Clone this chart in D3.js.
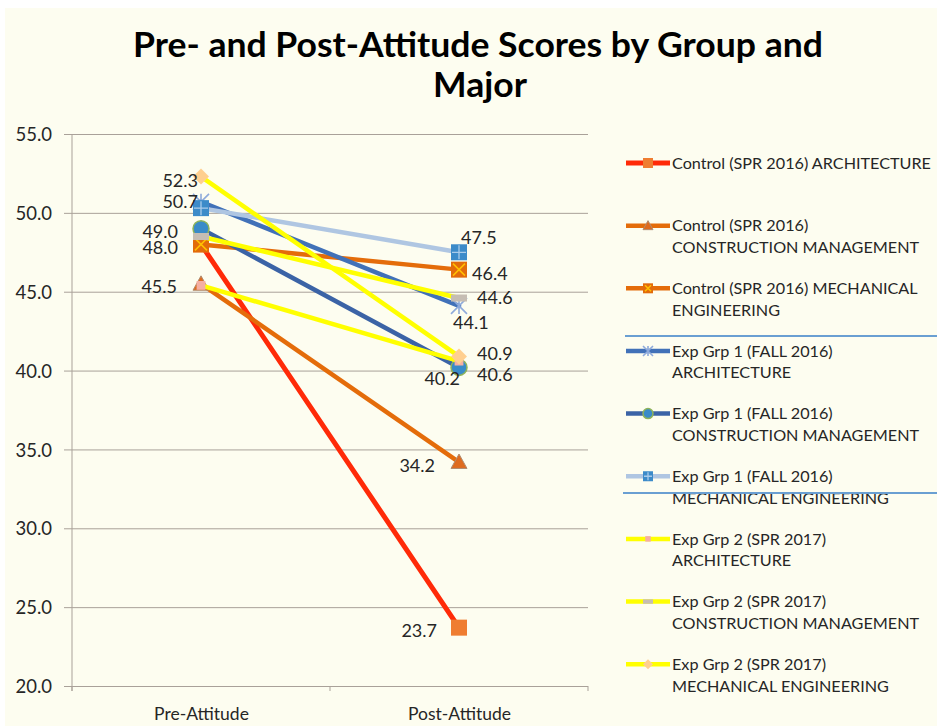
<!DOCTYPE html>
<html><head><meta charset="utf-8">
<script src="https://cdn.jsdelivr.net/npm/d3@7"></script>
<style>html,body{margin:0;padding:0;background:#fff}svg{display:block}</style>
</head><body>
<svg id="chart" width="937" height="726"></svg>
<script>
// ---------- DATA ----------
const categories = ["Pre-Attitude", "Post-Attitude"];
const seriesNames = [
  ["Control (SPR 2016) ARCHITECTURE"],
  ["Control (SPR 2016)", "CONSTRUCTION MANAGEMENT"],
  ["Control (SPR 2016) MECHANICAL", "ENGINEERING"],
  ["Exp Grp 1 (FALL 2016)", "ARCHITECTURE"],
  ["Exp Grp 1 (FALL 2016)", "CONSTRUCTION MANAGEMENT"],
  ["Exp Grp 1 (FALL 2016)", "MECHANICAL ENGINEERING"],
  ["Exp Grp 2 (SPR 2017)", "ARCHITECTURE"],
  ["Exp Grp 2 (SPR 2017)", "CONSTRUCTION MANAGEMENT"],
  ["Exp Grp 2 (SPR 2017)", "MECHANICAL ENGINEERING"]
];
const preValues  = [48.0, 45.5, 48.0, 50.7, 49.0, 50.3, 45.4, 48.5, 52.3];
const postValues = [23.7, 34.2, 46.4, 44.1, 40.2, 47.5, 40.6, 44.6, 40.9];
const preLabelShown  = [false, true, true, true, true, false, false, false, true];
const postLabelShown = [true, true, true, true, true, true, true, true, true];
const yTicks = [20, 25, 30, 35, 40, 45, 50, 55];
const titleLines = ["Pre- and Post-Attitude Scores by Group and", "Major"];

// ---------- STYLE ----------
const lineColors = ["#FF2A08", "#E46C0A", "#E46C0A", "#4171B8", "#3B63A6", "#AFC6E2", "#FFFF00", "#FFFF00", "#FFFF00"];
const lineWidths = [5, 4.5, 4.5, 4.5, 4.5, 4.5, 4.5, 4.5, 4.5];
const markerTypes = ["square", "triangle", "xsquare", "asterisk", "circle", "plussquare", "smallsquare", "dash", "diamond"];
// label placement per series: [dx, dy, anchor]
const preLabelPlace = [[-23, 3, "end"], [-24, 3, "end"], [-23, 3, "end"], [-3, 0, "end"], [-23, 3, "end"], [0,0,"end"], [0,0,"end"], [0,0,"end"], [-3, 4, "end"]];
const postLabelPlace = [[-22, 3, "end"], [-24, 3, "end"], [13, 4, "start"], [-6, 17, "start"], [1, 11, "end"], [2, -15, "start"], [18, 13, "start"], [18, -1, "start"], [18, -3, "start"]];

const svg = d3.select("#chart");
const W = 937, H = 726;
const bg = "#FDFDF0";
svg.append("rect").attr("x", 5).attr("y", 8).attr("width", W - 5).attr("height", H - 8).attr("fill", bg);

const plot = {left: 72, right: 588, top: 134, bottom: 686};
const x = d3.scalePoint().domain(categories).range([plot.left, plot.right]).padding(0.5);
const y = d3.scaleLinear().domain([20, 55]).range([plot.bottom, plot.top]);
const gridColor = "#A9A199";
const textColor = "#262626";
const font = "Lato, 'Open Sans', sans-serif";

// Title
const tg = svg.append("g").attr("font-family", font).attr("font-weight", "bold").attr("fill", "#000").attr("text-anchor", "middle");
const t1 = tg.append("text").attr("x", 478).attr("y", 57).attr("font-size", 34).text(titleLines[0]);
const natural = t1.node().getComputedTextLength();
const ratio = 690 / natural;
t1.attr("textLength", 690).attr("lengthAdjust", "spacingAndGlyphs");
const t2 = tg.append("text").attr("x", 480).attr("y", 97).attr("font-size", 34).text(titleLines[1]);
const n2 = t2.node().getComputedTextLength();
t2.attr("textLength", n2 * ratio).attr("lengthAdjust", "spacingAndGlyphs");

// Grid + y axis
const yAxis = d3.axisLeft(y).tickValues(yTicks).tickSize(-(plot.right - plot.left)).tickPadding(20).tickFormat(d3.format(".1f"));
const gy = svg.append("g").attr("transform", `translate(${plot.left},0)`).call(yAxis);
gy.select(".domain").remove();
gy.selectAll(".tick line").attr("stroke", gridColor).attr("stroke-width", 1).attr("x1", -8);
gy.selectAll(".tick text").attr("font-family", font).attr("font-size", 18.5).attr("fill", textColor).attr("dy", "0.36em");
svg.append("line").attr("x1", plot.left).attr("x2", plot.left).attr("y1", plot.top).attr("y2", plot.bottom + 5).attr("stroke", gridColor).attr("stroke-width", 1);

// x axis
const xAxis = d3.axisBottom(x).tickSize(0).tickPadding(22);
const gx = svg.append("g").attr("transform", `translate(0,${plot.bottom})`).call(xAxis);
gx.select(".domain").remove();
gx.selectAll(".tick text").attr("font-family", font).attr("font-size", 17.5).attr("fill", textColor);
const step = x.step();
[plot.left, plot.left + step, plot.right].forEach(px => {
  svg.append("line").attr("x1", px).attr("x2", px).attr("y1", plot.bottom).attr("y2", plot.bottom + 5).attr("stroke", gridColor);
});

// Marker drawer
function drawMarker(g, type, cx, cy, s) {
  const h = s / 2;
  switch (type) {
    case "square":
      g.append("rect").attr("x", cx - h).attr("y", cy - h).attr("width", s).attr("height", s).attr("fill", "#EF7D31");
      break;
    case "triangle":
      g.append("path").attr("d", `M${cx},${cy - h}L${cx + h},${cy + h * 0.8}L${cx - h},${cy + h * 0.8}Z`).attr("fill", "#DE6B1F").attr("stroke", "#B08C70").attr("stroke-width", 1);
      break;
    case "xsquare":
      g.append("rect").attr("x", cx - h).attr("y", cy - h).attr("width", s).attr("height", s).attr("fill", "#E26B0A");
      g.append("path").attr("d", `M${cx - h + 2},${cy - h + 2}L${cx + h - 2},${cy + h - 2}M${cx + h - 2},${cy - h + 2}L${cx - h + 2},${cy + h - 2}`).attr("stroke", "#FFC000").attr("stroke-width", 1.5);
      break;
    case "asterisk":
      g.append("path").attr("d", `M${cx - h},${cy - h}L${cx + h},${cy + h}M${cx + h},${cy - h}L${cx - h},${cy + h}M${cx},${cy - h}L${cx},${cy + h}`).attr("stroke", "#8EAADB").attr("stroke-width", 1.6).attr("fill", "none");
      break;
    case "circle":
      g.append("circle").attr("cx", cx).attr("cy", cy).attr("r", h).attr("fill", "#3A8BC8").attr("stroke", "#8FB35A").attr("stroke-width", 1.5);
      break;
    case "plussquare":
      g.append("rect").attr("x", cx - h).attr("y", cy - h).attr("width", s).attr("height", s).attr("fill", "#3C8BC9");
      g.append("path").attr("d", `M${cx},${cy - h + 1}L${cx},${cy + h - 1}M${cx - h + 1},${cy}L${cx + h - 1},${cy}`).attr("stroke", "#A9CBEA").attr("stroke-width", 1.3);
      break;
    case "smallsquare":
      g.append("rect").attr("x", cx - h * 0.55).attr("y", cy - h * 0.55).attr("width", s * 0.55).attr("height", s * 0.55).attr("fill", "#F5AFA2");
      break;
    case "dash":
      g.append("rect").attr("x", cx - h).attr("y", cy - s * 0.22).attr("width", s).attr("height", s * 0.44).attr("fill", "#C6BDB3");
      break;
    case "diamond":
      g.append("path").attr("d", `M${cx},${cy - h}L${cx + h},${cy}L${cx},${cy + h}L${cx - h},${cy}Z`).attr("fill", "#FFCF8F");
      break;
  }
}

// Series lines and markers
const lineGen = d3.line().x(d => x(d.c)).y(d => y(d.v));
seriesNames.forEach((name, i) => {
  const pts = [{c: categories[0], v: preValues[i]}, {c: categories[1], v: postValues[i]}];
  const g = svg.append("g");
  g.append("path").attr("d", lineGen(pts)).attr("fill", "none").attr("stroke", lineColors[i]).attr("stroke-width", lineWidths[i]).attr("stroke-linecap", "round");
  pts.forEach(p => drawMarker(g, markerTypes[i], x(p.c), y(p.v), 16));
});

// Data labels
const lg = svg.append("g").attr("font-family", font).attr("font-size", 18).attr("fill", textColor);
const fmt = d3.format(".1f");
seriesNames.forEach((name, i) => {
  if (preLabelShown[i]) {
    const [dx, dy, a] = preLabelPlace[i];
    lg.append("text").attr("x", x(categories[0]) + dx).attr("y", y(preValues[i]) + dy).attr("dy", "0.36em").attr("text-anchor", a).text(fmt(preValues[i]));
  }
  if (postLabelShown[i]) {
    const [dx, dy, a] = postLabelPlace[i];
    lg.append("text").attr("x", x(categories[1]) + dx).attr("y", y(postValues[i]) + dy).attr("dy", "0.36em").attr("text-anchor", a).text(fmt(postValues[i]));
  }
});

// Legend
const leg = svg.append("g").attr("font-family", font).attr("font-size", 16.2).attr("fill", textColor);
seriesNames.forEach((lines, i) => {
  const ly = 163 + i * 62.65;
  leg.append("line").attr("x1", 626).attr("x2", 670).attr("y1", ly).attr("y2", ly).attr("stroke", lineColors[i]).attr("stroke-width", lineWidths[i]);
  drawMarker(leg, markerTypes[i], 648, ly, 10);
  lines.forEach((t, k) => {
    leg.append("text").attr("x", 672).attr("y", ly + k * 21.5).attr("dy", "0.36em").text(t);
  });
});

// Separator lines (overlaid shapes)
svg.append("line").attr("x1", 625).attr("x2", 937).attr("y1", 336).attr("y2", 336).attr("stroke", "#6A9FD2").attr("stroke-width", 1.8);
svg.append("line").attr("x1", 623).attr("x2", 937).attr("y1", 493).attr("y2", 493).attr("stroke", "#6A9FD2").attr("stroke-width", 1.8);
</script>
</body></html>
